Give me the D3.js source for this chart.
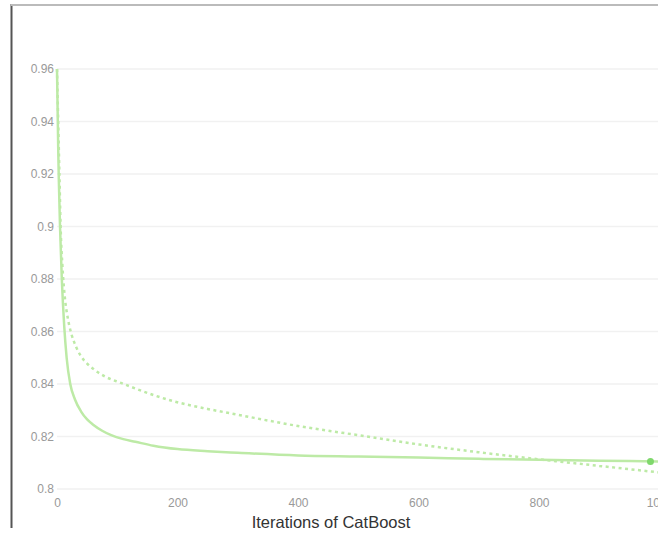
<!DOCTYPE html>
<html>
<head>
<meta charset="utf-8">
<script src="https://cdn.jsdelivr.net/npm/d3@7"></script>
<style>
  body { margin: 0; background: #fff; }
  text { font-family: 'Liberation Sans', Arial, sans-serif; }
</style>
</head>
<body>
<div id="chart"></div>
<script>
// learn curve (solid)
let learnIters = [0, 1, 2, 3, 5, 8, 12, 16, 22, 30, 40, 50, 60, 75, 90, 110, 130, 160, 200, 250, 300, 400, 500, 600, 700, 800, 900, 1000]
let learnVals = [0.96, 0.945, 0.93, 0.918, 0.9, 0.88, 0.862, 0.85, 0.84, 0.834, 0.8295, 0.8265, 0.8245, 0.8222, 0.8205, 0.819, 0.818, 0.8165, 0.8152, 0.8144, 0.8138, 0.8128, 0.8124, 0.812, 0.8115, 0.8111, 0.8108, 0.8105]
// test curve (dotted)
let testIters = [0, 2, 4, 6, 9, 13, 18, 24, 32, 40, 50, 60, 80, 105, 130, 160, 204, 250, 300, 400, 500, 600, 700, 800, 900, 1000]
let testVals = [0.96, 0.94, 0.92, 0.9, 0.885, 0.873, 0.865, 0.859, 0.854, 0.8505, 0.8478, 0.8458, 0.8428, 0.8405, 0.8383, 0.8358, 0.8328, 0.8305, 0.8283, 0.824, 0.8205, 0.817, 0.814, 0.8113, 0.8088, 0.8063]
let bestPoint = [985, 0.8105]
let xTicks = [0, 200, 400, 600, 800, 1000]
let yTicks = [0.8, 0.82, 0.84, 0.86, 0.88, 0.9, 0.92, 0.94, 0.96]

let width = 658
let height = 533
let lineColor = '#bdeaa6'
let markColor = '#7fd86c'

let svg = d3.select('#chart')
  .append('svg')
  .attr('width', width)
  .attr('height', height)

let x = d3.scaleLinear().domain([0, 1000]).range([57, 659.5])
let y = d3.scaleLinear().domain([0.8, 0.96]).range([489, 69])

// frame edges of the screenshot
svg.append('line')
  .attr('x1', 11.5).attr('x2', 11.5).attr('y1', 4).attr('y2', 528)
  .attr('stroke', '#555').attr('stroke-width', 2)
svg.append('line')
  .attr('x1', 11).attr('x2', width).attr('y1', 5).attr('y2', 5)
  .attr('stroke', '#bbb').attr('stroke-width', 2)

// grid
svg.append('g')
  .selectAll('line')
  .data(yTicks)
  .enter()
  .append('line')
  .attr('x1', 57).attr('x2', width)
  .attr('y1', d => y(d)).attr('y2', d => y(d))
  .attr('stroke', '#f1f1f1')
  .attr('stroke-width', 1.5)

// y axis labels
let yAxis = d3.axisLeft(y).tickValues(yTicks).tickSize(0).tickPadding(3)
  .tickFormat(d => String(+d.toFixed(2)))
svg.append('g')
  .attr('transform', 'translate(57,0)')
  .call(yAxis)
  .call(g => g.select('.domain').remove())
  .selectAll('text')
  .attr('fill', '#999')
  .style('font-size', '12px')

// x axis labels
let xAxis = d3.axisBottom(x).tickValues(xTicks).tickSize(0).tickPadding(3)
  .tickFormat(d3.format('d'))
svg.append('g')
  .attr('transform', 'translate(0,495)')
  .call(xAxis)
  .call(g => g.select('.domain').remove())
  .selectAll('text')
  .attr('fill', '#999')
  .style('font-size', '12px')

svg.append('text')
  .attr('x', 331)
  .attr('y', 528)
  .attr('text-anchor', 'middle')
  .attr('fill', '#333')
  .style('font-size', '16.5px')
  .text('Iterations of CatBoost')

let line = d3.line()
  .x(d => x(d[0]))
  .y(d => y(d[1]))
  .curve(d3.curveMonotoneX)

svg.append('path')
  .datum(d3.zip(testIters, testVals))
  .attr('d', line)
  .attr('fill', 'none')
  .attr('stroke', lineColor)
  .attr('stroke-width', 2.5)
  .attr('stroke-dasharray', '3,3.5')

svg.append('path')
  .datum(d3.zip(learnIters, learnVals))
  .attr('d', line)
  .attr('fill', 'none')
  .attr('stroke', lineColor)
  .attr('stroke-width', 2.5)

svg.append('circle')
  .attr('cx', x(bestPoint[0]))
  .attr('cy', y(bestPoint[1]))
  .attr('r', 3.5)
  .attr('fill', markColor)
</script>
</body>
</html>
